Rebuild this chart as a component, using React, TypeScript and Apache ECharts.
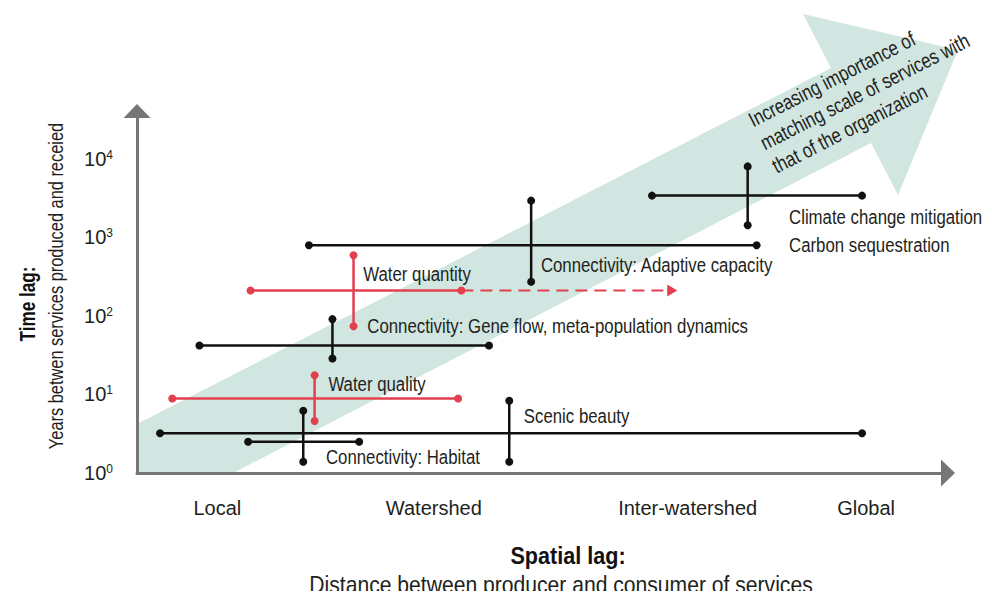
import React, { useEffect, useRef } from 'react';
import * as echarts from 'echarts';

const FONT = '"Liberation Sans", Arial, sans-serif';
const TEXT = '#231f20';
const BLACK = '#111111';
const RED = '#e2404f';
const TEAL = '#d1e6e1';
const AXIS = '#767676';
const NARROW = 0.8; // horizontal compression to mimic the condensed typeface

// x: relative spatial distance (0–100); y: time lag in years (log10 scale)
const spatialCategories = ['Local', 'Watershed', 'Inter-watershed', 'Global'];
const spatialCategoryPositions = [9.9, 36.6, 67.9, 89.9];
const timeTickExponents = [0, 1, 2, 3, 4];

const rangeServices = [
  'Climate change mitigation',
  'Connectivity: Adaptive capacity',
  'Water quantity',
  'Connectivity: Gene flow',
  'Water quality',
  'Scenic beauty',
  'Connectivity: Habitat',
];
const rangeIsWater = [false, false, true, false, true, false, false];
// horizontal (spatial) ranges
const spatialFrom = [63.5, 21.2, 14.0, 7.7, 4.35, 2.84, 13.7];
const spatialTo = [89.4, 76.4, 40.0, 43.4, 39.6, 89.4, 27.4];
const timeAtSpatialRange = [3410, 796, 211, 42, 8.9, 3.2, 2.5];
// vertical (time) ranges
const spatialAtTimeRange = [75.3, 48.6, 26.7, 24.1, 21.9, 45.9, 20.5];
const timeFrom = [1430, 273, 74, 28.7, 4.6, 1.39, 1.39];
const timeTo = [8030, 2940, 594, 91, 17.6, 8.3, 6.2];
// potential extension of water quantity (dashed)
const waterQuantityPotentialTo = 66.0;

const labelTexts = [
  'Climate change mitigation\nCarbon sequestration',
  'Connectivity: Adaptive capacity',
  'Water quantity',
  'Connectivity: Gene flow, meta-population dynamics',
  'Water quality',
  'Scenic beauty',
  'Connectivity: Habitat',
];
const labelSpatial = [80.4, 49.8, 27.9, 28.4, 23.6, 47.7, 23.3];
const labelTime = [1220, 453, 348, 74, 13.5, 5.3, 1.6];

const arrowTextLines = [
  'Increasing importance of',
  'matching scale of services with',
  'that of the organization',
];

const lg = (v: number) => Math.log10(v);

export default function App() {
  const ref = useRef<HTMLDivElement>(null);
  useEffect(() => {
    if (!ref.current) return;
    const chart = echarts.init(ref.current, undefined, { renderer: 'svg' });

    const series: any[] = [];
    rangeServices.forEach((name, i) => {
      const color = rangeIsWater[i] ? RED : BLACK;
      series.push({
        name: name + ' (spatial)',
        type: 'line',
        data: [
          [spatialFrom[i], lg(timeAtSpatialRange[i])],
          [spatialTo[i], lg(timeAtSpatialRange[i])],
        ],
        symbol: 'circle',
        symbolSize: 8,
        showSymbol: true,
        itemStyle: { color },
        lineStyle: { color, width: 2.5 },
        z: rangeIsWater[i] ? 4 : 3,
        silent: true,
      });
      series.push({
        name: name + ' (time)',
        type: 'line',
        data: [
          [spatialAtTimeRange[i], lg(timeFrom[i])],
          [spatialAtTimeRange[i], lg(timeTo[i])],
        ],
        symbol: 'circle',
        symbolSize: 8,
        showSymbol: true,
        itemStyle: { color },
        lineStyle: { color, width: 2.5 },
        z: rangeIsWater[i] ? 4 : 3,
        silent: true,
      });
    });
    series.push({
      name: 'Water quantity (potential)',
      type: 'line',
      data: [
        { value: [spatialTo[2], lg(timeAtSpatialRange[2])], symbol: 'none' },
        {
          value: [waterQuantityPotentialTo, lg(timeAtSpatialRange[2])],
          symbol: 'triangle',
          symbolRotate: -90,
          symbolSize: [12, 10],
        },
      ],
      showSymbol: true,
      itemStyle: { color: RED },
      lineStyle: { color: RED, width: 2, type: [12, 7] },
      z: 3,
      silent: true,
    });

    chart.setOption({
      animation: false,
      backgroundColor: '#ffffff',
      grid: { left: 137, right: 44, top: 111, bottom: 126, containLabel: false },
      xAxis: {
        type: 'value',
        min: 0,
        max: 100,
        splitLine: { show: false },
        axisTick: { show: false },
        axisLine: {
          show: true,
          lineStyle: { color: AXIS, width: 3 },
          symbol: ['none', 'triangle'],
          symbolSize: [27, 14],
        },
        axisLabel: {
          customValues: spatialCategoryPositions,
          margin: 25,
          color: TEXT,
          fontFamily: FONT,
          fontSize: 20,
          formatter: (v: number) => {
            const idx = spatialCategoryPositions.findIndex((p) => Math.abs(p - v) < 0.01);
            return idx >= 0 ? spatialCategories[idx] : '';
          },
        },
      },
      yAxis: {
        type: 'value',
        min: 0,
        max: 4.61,
        splitLine: { show: false },
        axisTick: { show: false },
        axisLine: {
          show: true,
          lineStyle: { color: AXIS, width: 3 },
          symbol: ['none', 'triangle'],
          symbolSize: [27, 14],
        },
        axisLabel: {
          customValues: timeTickExponents,
          margin: 24,
          formatter: (v: number) => `{b|10}{s|${Math.round(v)}}`,
          rich: {
            b: { fontFamily: FONT, fontSize: 20, color: TEXT },
            s: { fontFamily: FONT, fontSize: 12, color: TEXT, verticalAlign: 'top' },
          },
        },
      },
      series,
    });

    const labelGraphics = labelTexts.map((t, i) => {
      const p = chart.convertToPixel({ gridIndex: 0 }, [labelSpatial[i], lg(labelTime[i])]) as number[];
      return {
        type: 'text',
        x: p[0],
        y: p[1],
        scaleX: NARROW,
        z: 5,
        silent: true,
        style: {
          text: t,
          fill: TEXT,
          font: `21px ${FONT}`,
          lineHeight: 28,
          textAlign: 'left',
          textVerticalAlign: 'middle',
        },
      };
    });

    chart.setOption({
      graphic: [
        {
          type: 'polygon',
          z: -10,
          silent: true,
          shape: {
            points: [
              [137, 473],
              [233, 473],
              [871, 143],
              [898, 195],
              [958, 50],
              [803, 14],
              [831, 68],
              [137, 424],
            ],
          },
          style: { fill: TEAL },
        },
        {
          type: 'group',
          x: 750,
          y: 121,
          rotation: (27 * Math.PI) / 180,
          silent: true,
          children: arrowTextLines.map((line, i) => ({
            type: 'text',
            x: 0,
            y: i * 26,
            scaleX: 0.8,
            style: {
              text: line,
              fill: TEXT,
              font: `21px ${FONT}`,
              textAlign: 'left',
              textVerticalAlign: 'middle',
            },
          })),
        },
        {
          type: 'text',
          x: 27,
          y: 304,
          rotation: Math.PI / 2,
          scaleX: 0.78,
          silent: true,
          style: {
            text: 'Time lag:',
            fill: '#111',
            font: `bold 22px ${FONT}`,
            textAlign: 'center',
            textVerticalAlign: 'middle',
          },
        },
        {
          type: 'text',
          x: 56,
          y: 286,
          rotation: Math.PI / 2,
          scaleX: 0.82,
          silent: true,
          style: {
            text: 'Years betwen services produced and receied',
            fill: TEXT,
            font: `20px ${FONT}`,
            textAlign: 'center',
            textVerticalAlign: 'middle',
          },
        },
        {
          type: 'text',
          x: 568,
          y: 556,
          scaleX: 0.9,
          silent: true,
          style: {
            text: 'Spatial lag:',
            fill: '#111',
            font: `bold 24px ${FONT}`,
            textAlign: 'center',
            textVerticalAlign: 'middle',
          },
        },
        {
          type: 'text',
          x: 561,
          y: 585,
          scaleX: 0.88,
          silent: true,
          style: {
            text: 'Distance between producer and consumer of services',
            fill: TEXT,
            font: `24px ${FONT}`,
            textAlign: 'center',
            textVerticalAlign: 'middle',
          },
        },
        ...labelGraphics,
      ],
    });
    return () => chart.dispose();
  }, []);
  return <div ref={ref} style={{ width: 992, height: 599, margin: -8 }} />;
}
